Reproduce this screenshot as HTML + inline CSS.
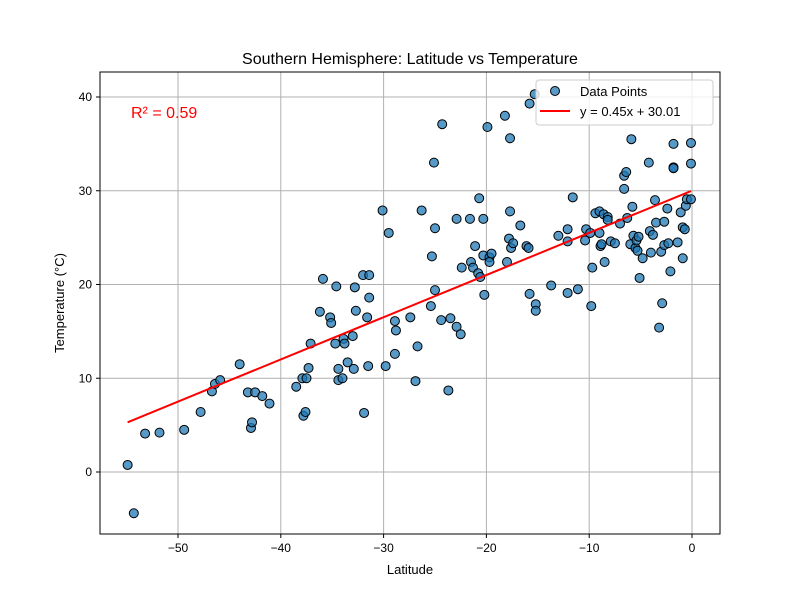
<!DOCTYPE html>
<html><head><meta charset="utf-8"><style>
body{margin:0;background:#fff;}
svg text{font-family:"Liberation Sans","DejaVu Sans",sans-serif;}
</style></head><body>
<svg id="chart" width="800" height="600" xmlns="http://www.w3.org/2000/svg">
<rect width="800" height="600" fill="#fff"/>
<text x="410" y="64" text-anchor="middle" font-size="16">Southern Hemisphere: Latitude vs Temperature</text>
<text x="410" y="574" text-anchor="middle" font-size="13">Latitude</text>
<text transform="translate(64,303) rotate(-90)" text-anchor="middle" font-size="13">Temperature (°C)</text>
<g id="grid"></g><g id="ticks"></g><g id="marks"></g>
<text x="131" y="118" font-size="16" fill="red">R² = 0.59</text>
<g>
<rect x="536" y="80" width="177" height="45" rx="3" fill="#fff" fill-opacity="0.8" stroke="#ccc"/>
<circle cx="555" cy="91" r="4.5" fill="#1f77b4" fill-opacity="0.75" stroke="#000"/>
<text x="580" y="96" font-size="13">Data Points</text>
<line x1="540" y1="111" x2="570" y2="111" stroke="red" stroke-width="2"/>
<text x="580" y="116" font-size="13">y = 0.45x + 30.01</text>
</g>
<rect x="100" y="72" width="620" height="462" fill="none" stroke="#000" stroke-width="1"/>
</svg>
<script>
const lat=[-54.9,-54.3,-53.2,-51.8,-49.4,-47.8,-46.7,-46.4,-45.9,-44.0,-43.2,-42.9,-42.8,-42.5,-41.8,-41.1,-38.5,-37.9,-37.8,-37.6,-37.5,-37.3,-37.1,-36.2,-35.9,-35.2,-35.1,-34.7,-34.6,-34.4,-34.4,-34.0,-33.9,-33.8,-33.5,-33.0,-32.9,-32.8,-32.7,-32.0,-31.9,-31.6,-31.5,-31.4,-31.4,-30.1,-29.8,-29.5,-28.9,-28.9,-28.8,-27.4,-26.9,-26.7,-26.3,-25.4,-25.3,-25.1,-25.0,-25.0,-24.4,-24.3,-23.7,-23.5,-22.9,-22.9,-22.5,-22.4,-21.6,-21.5,-21.3,-21.1,-20.8,-20.7,-20.6,-20.3,-20.3,-20.2,-19.9,-19.7,-19.7,-19.5,-18.2,-18.0,-17.8,-17.7,-17.7,-17.6,-17.4,-16.7,-16.1,-15.9,-15.8,-15.8,-15.3,-15.2,-15.2,-13.7,-13.0,-12.1,-12.1,-12.1,-11.6,-11.1,-10.4,-10.3,-9.9,-9.7,-9.8,-9.4,-9.0,-8.9,-8.8,-9.0,-8.6,-8.5,-8.2,-8.2,-7.9,-7.5,-7.0,-6.6,-6.6,-6.4,-6.3,-5.9,-6.0,-5.8,-5.7,-5.5,-5.4,-5.3,-5.2,-5.1,-4.8,-4.2,-4.1,-4.0,-3.8,-3.6,-3.5,-3.2,-3.0,-2.9,-2.7,-2.7,-2.4,-2.3,-2.1,-1.8,-1.8,-1.8,-1.4,-1.1,-0.9,-0.9,-0.7,-0.6,-0.5,-0.1,-0.1,-0.1];
const temp=[0.75,-4.4,4.1,4.2,4.5,6.4,8.6,9.4,9.8,11.5,8.5,4.7,5.3,8.5,8.1,7.3,9.1,10.0,6.0,6.4,10.0,11.1,13.7,17.1,20.6,16.5,15.9,13.7,19.8,11.0,9.8,10.0,14.2,13.7,11.7,14.5,11.0,19.7,17.2,21.0,6.3,16.5,11.3,18.6,21.0,27.9,11.3,25.5,12.6,16.1,15.1,16.5,9.7,13.4,27.9,17.7,23.0,33.0,19.4,26.0,16.2,37.1,8.7,16.4,27.0,15.5,14.7,21.8,27.0,22.4,21.8,24.1,21.2,29.2,20.8,23.1,27.0,18.9,36.8,22.9,22.4,23.3,38.0,22.4,24.9,35.6,27.8,23.9,24.4,26.3,24.1,23.9,39.3,19.0,40.3,17.9,17.2,19.9,25.2,24.6,25.9,19.1,29.3,19.5,24.7,25.9,25.5,21.8,17.7,27.6,27.8,24.1,24.3,25.5,27.5,22.4,27.2,26.9,24.6,24.4,26.5,30.2,31.6,32.0,27.1,35.5,24.3,28.3,25.2,23.9,24.7,23.6,25.1,20.7,22.8,33.0,25.7,23.4,25.3,29.0,26.6,15.4,23.5,18.0,24.2,26.7,28.1,24.4,21.4,32.5,32.4,35.0,24.5,27.7,22.8,26.1,25.9,28.4,29.1,35.1,32.9,29.1];
const slope=0.45, intercept=30.01;
const xTicks=[-50,-40,-30,-20,-10,0];
const yTicks=[0,10,20,30,40];
const NS="http://www.w3.org/2000/svg";
const X=v=>692+(v-0)*10.28;
const Y=v=>472-v*9.375;
function mk(tag,attrs,parent){const e=document.createElementNS(NS,tag);for(const k in attrs)e.setAttribute(k,attrs[k]);parent.appendChild(e);return e;}
const grid=document.getElementById('grid'),ticks=document.getElementById('ticks'),marks=document.getElementById('marks');
xTicks.forEach(t=>{
 const g=mk('line',{x1:X(t),x2:X(t),y1:72,y2:534,stroke:'#b0b0b0','stroke-width':1},grid);
 
 
 mk('line',{x1:X(t),x2:X(t),y1:534,y2:538,stroke:'#000'},ticks);
 const tx=mk('text',{x:X(t),y:552,'text-anchor':'middle','font-size':12},ticks);
 tx.textContent=t<0?'\u2212'+Math.abs(t):t;
 
 
});
yTicks.forEach(t=>{
 const g=mk('line',{x1:100,x2:720,y1:Y(t),y2:Y(t),stroke:'#b0b0b0','stroke-width':1},grid);
 
 
 mk('line',{x1:96,x2:100,y1:Y(t),y2:Y(t),stroke:'#000'},ticks);
 const tx=mk('text',{x:92,y:Y(t)+4,'text-anchor':'end','font-size':12},ticks);
 tx.textContent=t;
 
 
});
lat.forEach((v,i)=>{
 const c=mk('circle',{cx:X(v),cy:Y(temp[i]),r:4.5,fill:'#1f77b4','fill-opacity':0.75,stroke:'#000','stroke-width':1},marks);
 
 
});
const xmin=Math.min(...lat),xmax=Math.max(...lat);
const ln=mk('line',{x1:X(xmin),y1:Y(slope*xmin+intercept),x2:X(xmax),y2:Y(slope*xmax+intercept),stroke:'red','stroke-width':2},marks);


</script>
</body></html>
